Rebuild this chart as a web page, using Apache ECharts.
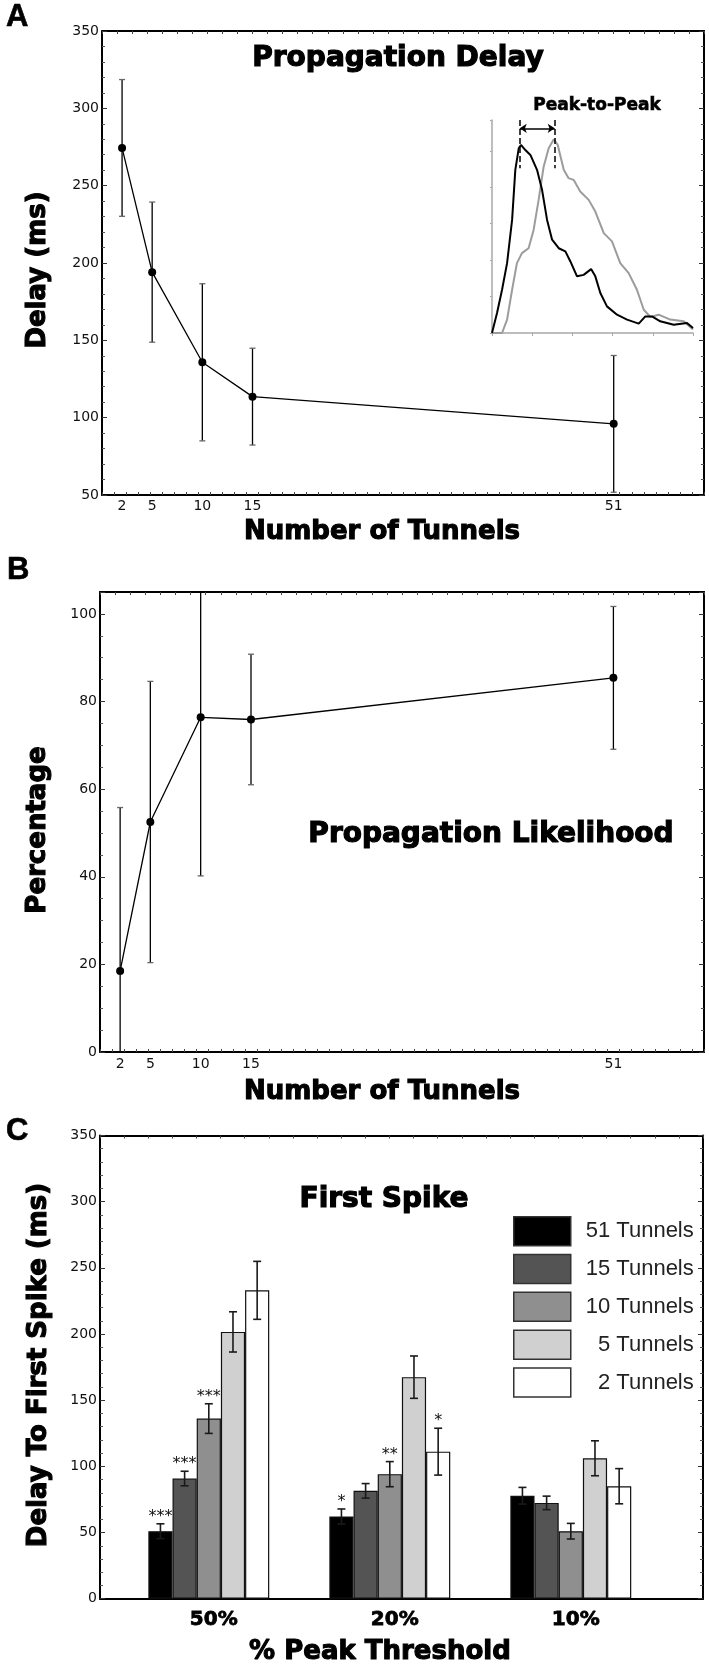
<!DOCTYPE html>
<html><head><meta charset="utf-8">
<script src="https://cdn.jsdelivr.net/npm/echarts@6/dist/echarts.min.js"></script>
<style>html,body{margin:0;padding:0;background:#fff}#c{width:709px;height:1667px}</style>
</head><body><div id="c"></div>
<script>
// ---------- DATA ----------
const tunnels = [2, 5, 10, 15, 51];
const xTickLabels = [2, 5, 10, 15, 51];
const delayMean = [274.4, 194.1, 135.8, 113.6, 96.0];
const delayErr = [44.2, 45.3, 50.8, 31.3, 44.2];
const likeMean = [18.5, 52.5, 76.4, 75.9, 85.4];
const likeErr = [37.3, 32.1, 36.2, 14.9, 16.3];

const thresholds = ['50%', '20%', '10%'];
const barNames = ['51 Tunnels', '15 Tunnels', '10 Tunnels', '5 Tunnels', '2 Tunnels'];
const spike51 = [51.0, 62.1, 77.8];   const spike51Err = [5.6, 5.7, 6.3];
const spike15 = [90.8, 81.5, 72.4];   const spike15Err = [5.5, 5.5, 5.1];
const spike10 = [136.1, 94.1, 51.0];  const spike10Err = [11.2, 9.5, 5.9];
const spike5  = [201.6, 167.4, 106.1];const spike5Err  = [15.2, 16.0, 13.2];
const spike2  = [233.0, 111.1, 85.0]; const spike2Err  = [21.9, 17.7, 13.3];
const stars51 = ['***', '*', ''];
const stars15 = ['***', '', ''];
const stars10 = ['***', '**', ''];
const stars5  = ['', '', ''];
const stars2  = ['', '*', ''];

// inset traces (normalised time, normalised amplitude)
const insetBlackT = [0,2.5,5.0,7.5,10.0,11.6,13.3,14.4,16.6,19.1,22.4,24.9,27.4,29.9,33.2,36.5,39.0,42.3,45.6,49.3,51.4,53.9,57.2,62.2,67.2,73.0,76.3,79.6,83.7,90.4,97.0,100];
const insetBlackV = [0,0.094,0.203,0.328,0.531,0.766,0.867,0.883,0.859,0.836,0.766,0.672,0.531,0.438,0.398,0.383,0.336,0.266,0.273,0.300,0.266,0.188,0.125,0.086,0.063,0.044,0.078,0.078,0.055,0.039,0.047,0.023];
const insetGreyT = [0,5.0,7.5,10.0,12.4,14.9,18.2,20.7,23.2,25.7,28.2,30.7,32.7,35.7,38.1,40.6,43.9,48.1,51.4,55.6,59.7,63.8,68.0,72.1,75.5,78.8,82.9,88.7,95.4,100];
const insetGreyV = [0,0,0.063,0.203,0.328,0.375,0.398,0.484,0.625,0.781,0.867,0.909,0.883,0.766,0.727,0.719,0.664,0.625,0.570,0.469,0.430,0.328,0.281,0.203,0.109,0.075,0.086,0.063,0.055,0.016];
const insetPeaks = [13.8, 31.2];

// ---------- HELPERS ----------
const spikeMeans = [spike51, spike15, spike10, spike5, spike2];
const spikeErrs = [spike51Err, spike15Err, spike10Err, spike5Err, spike2Err];
const spikeStars = [stars51, stars15, stars10, stars5, stars2];
const barColors = ['#000000', '#545454', '#8f8f8f', '#d0d0d0', '#ffffff'];
const BAR_CAT_GAP = 0.332;

const TICK_FONT = {fontFamily: 'DejaVu Sans', fontSize: 14, color: '#111'};
const FRAME_LINE = {show: true, onZero: false, lineStyle: {color: '#000', width: 2}};
const TICK_IN = {show: true, inside: true, length: 5, lineStyle: {color: '#333', width: 1}};

function errRender(capW, lw, color, capColor) {
  return function (params, api) {
    const x = api.value(0), lo = api.value(1), hi = api.value(2);
    const a = api.coord([x, lo]), b = api.coord([x, hi]);
    return {type: 'group', children: [
      {type: 'line', shape: {x1: a[0], y1: a[1], x2: b[0], y2: b[1]}, style: {stroke: color, lineWidth: lw}},
      {type: 'line', shape: {x1: a[0] - capW / 2, y1: a[1], x2: a[0] + capW / 2, y2: a[1]}, style: {stroke: capColor, lineWidth: lw}},
      {type: 'line', shape: {x1: b[0] - capW / 2, y1: b[1], x2: b[0] + capW / 2, y2: b[1]}, style: {stroke: capColor, lineWidth: lw}}
    ]};
  };
}

const errA = tunnels.map((t, i) => [t, delayMean[i] - delayErr[i], delayMean[i] + delayErr[i]]);
const errB = tunnels.map((t, i) => [t, likeMean[i] - likeErr[i], likeMean[i] + likeErr[i]]);
const errC = [];
spikeMeans.forEach((arr, s) => arr.forEach((m, c) => errC.push([c, s, m - spikeErrs[s][c], m + spikeErrs[s][c]])));

function renderErrC(params, api) {
  const cat = api.value(0), s = api.value(1), lo = api.value(2), hi = api.value(3);
  const c0 = api.coord([cat, 0]);
  const bandW = api.size([1, 0])[0];
  const groupW = bandW * (1 - BAR_CAT_GAP);
  const barW = groupW / 5;
  const px = c0[0] - groupW / 2 + (s + 0.5) * barW;
  const yLo = api.coord([cat, lo])[1], yHi = api.coord([cat, hi])[1];
  const capW = 8, col = '#1a1a1a';
  const children = [
    {type: 'line', shape: {x1: px, y1: yLo, x2: px, y2: yHi}, style: {stroke: col, lineWidth: 1.6}},
    {type: 'line', shape: {x1: px - capW / 2, y1: yLo, x2: px + capW / 2, y2: yLo}, style: {stroke: col, lineWidth: 1.6}},
    {type: 'line', shape: {x1: px - capW / 2, y1: yHi, x2: px + capW / 2, y2: yHi}, style: {stroke: col, lineWidth: 1.6}}
  ];
  const star = spikeStars[s][cat];
  if (star) {
    children.push({type: 'text', style: {text: star, x: px, y: yHi - 7, align: 'center', verticalAlign: 'middle',
      textAlign: 'center', textVerticalAlign: 'middle', font: '16px "DejaVu Sans"', fill: '#111'}});
  }
  return {type: 'group', children};
}

function txt(x, y, text, font, opts) {
  opts = opts || {};
  const st = {text: text, x: 0, y: 0, font: font, fill: '#000',
      align: opts.align || 'center', textAlign: opts.align || 'center',
      verticalAlign: 'middle', textVerticalAlign: 'middle'};
  if (opts.heavy) { st.stroke = '#000'; st.lineWidth = opts.heavy; }
  return {type: 'text', x: x, y: y, rotation: opts.rot || 0, z: 100, style: st};
}
const AXT = 'bold 26px "DejaVu Sans"';
const TTL = 'bold 28px "DejaVu Sans"';
const LET = 'bold 31px "Liberation Sans"';

// ---------- OPTION ----------
const option = {
  animation: false,
  backgroundColor: '#fff',
  grid: [
    {left: 102, top: 31, width: 602, height: 464},          // A
    {left: 492, top: 120, width: 201, height: 213},         // A inset
    {left: 100, top: 592, width: 604, height: 460},         // B
    {left: 100, top: 1135.5, width: 603, height: 463.2},    // C frame
    {left: 118.3, top: 1135.5, width: 543, height: 463.2}   // C bars
  ],
  xAxis: [
    {gridIndex: 0, type: 'value', min: 0, max: 60, interval: 1.2, axisLine: FRAME_LINE,
      axisTick: {show: true, inside: true, length: 3, lineStyle: {color: '#444'}},
      axisLabel: Object.assign({customValues: xTickLabels, margin: 4}, TICK_FONT), splitLine: {show: false}},
    {gridIndex: 0, type: 'value', position: 'top', min: 0, max: 60, interval: 1.5, axisLine: FRAME_LINE,
      axisTick: {show: true, inside: true, length: 3, lineStyle: {color: '#444'}}, axisLabel: {show: false}, splitLine: {show: false}},
    {gridIndex: 1, type: 'value', min: 0, max: 100, interval: 20,
      axisLine: {show: true, onZero: false, lineStyle: {color: '#a8a8a8', width: 1.5}},
      axisTick: {show: true, inside: false, length: 3, lineStyle: {color: '#a8a8a8'}}, axisLabel: {show: false}, splitLine: {show: false}},
    {gridIndex: 2, type: 'value', min: 0, max: 60, interval: 1.2, axisLine: FRAME_LINE,
      axisTick: {show: true, inside: true, length: 3, lineStyle: {color: '#444'}},
      axisLabel: Object.assign({customValues: xTickLabels, margin: 5}, TICK_FONT), splitLine: {show: false}},
    {gridIndex: 2, type: 'value', position: 'top', min: 0, max: 60, interval: 1.5, axisLine: FRAME_LINE,
      axisTick: {show: true, inside: true, length: 3, lineStyle: {color: '#444'}}, axisLabel: {show: false}, splitLine: {show: false}},
    {gridIndex: 3, type: 'value', min: 0, max: 25, interval: 1, axisLine: FRAME_LINE,
      axisTick: {show: false}, axisLabel: {show: false}, splitLine: {show: false}},
    {gridIndex: 3, type: 'value', position: 'top', min: 0, max: 25, interval: 1, axisLine: FRAME_LINE,
      axisTick: {show: true, inside: true, length: 3, lineStyle: {color: '#444'}}, axisLabel: {show: false}, splitLine: {show: false}},
    {gridIndex: 4, type: 'category', data: thresholds, axisLine: {show: false}, axisTick: {show: false},
      axisLabel: {margin: 11, fontFamily: 'DejaVu Sans', fontWeight: 'bold', fontSize: 20, color: '#000',
        textBorderColor: '#000', textBorderWidth: 0.8, padding: [0, 0, 0, 10]}}
  ],
  yAxis: [
    {gridIndex: 0, type: 'value', min: 50, max: 350, interval: 50, axisLine: FRAME_LINE, axisTick: TICK_IN,
      minorTick: {show: true, splitNumber: 5, length: 3, lineStyle: {color: '#555'}},
      axisLabel: Object.assign({margin: 3}, TICK_FONT), splitLine: {show: false}},
    {gridIndex: 0, type: 'value', position: 'right', min: 50, max: 350, interval: 50, axisLine: FRAME_LINE, axisTick: TICK_IN,
      minorTick: {show: true, splitNumber: 5, length: 3, lineStyle: {color: '#555'}}, axisLabel: {show: false}, splitLine: {show: false}},
    {gridIndex: 1, type: 'value', min: 0, max: 1, interval: 0.171,
      axisLine: {show: true, onZero: false, lineStyle: {color: '#a8a8a8', width: 1.5}},
      axisTick: {show: true, inside: false, length: 2, lineStyle: {color: '#a8a8a8'}}, axisLabel: {show: false}, splitLine: {show: false}},
    {gridIndex: 2, type: 'value', min: 0, max: 105, interval: 20, axisLine: FRAME_LINE, axisTick: TICK_IN,
      minorTick: {show: true, splitNumber: 4, length: 3, lineStyle: {color: '#555'}},
      axisLabel: Object.assign({margin: 3, showMaxLabel: false}, TICK_FONT), splitLine: {show: false}},
    {gridIndex: 2, type: 'value', position: 'right', min: 0, max: 105, interval: 20, axisLine: FRAME_LINE, axisTick: TICK_IN,
      minorTick: {show: true, splitNumber: 4, length: 3, lineStyle: {color: '#555'}}, axisLabel: {show: false}, splitLine: {show: false}},
    {gridIndex: 3, type: 'value', min: 0, max: 350, interval: 50, axisLine: FRAME_LINE, axisTick: TICK_IN,
      minorTick: {show: true, splitNumber: 5, length: 3, lineStyle: {color: '#555'}},
      axisLabel: Object.assign({margin: 3}, TICK_FONT), splitLine: {show: false}},
    {gridIndex: 3, type: 'value', position: 'right', min: 0, max: 350, interval: 50, axisLine: FRAME_LINE, axisTick: TICK_IN,
      minorTick: {show: true, splitNumber: 5, length: 3, lineStyle: {color: '#555'}}, axisLabel: {show: false}, splitLine: {show: false}},
    {gridIndex: 4, type: 'value', min: 0, max: 350, show: false, splitLine: {show: false}}
  ],
  legend: {
    data: barNames, orient: 'vertical', left: 508, top: 1211, itemWidth: 57, itemHeight: 29, itemGap: 7.3,
    icon: 'rect', selectedMode: false, itemStyle: {borderColor: '#333', borderWidth: 1.5},
    formatter: n => '{r|' + n + '}',
    textStyle: {fontFamily: 'Liberation Sans', fontSize: 22, color: '#222',
      rich: {r: {width: 118, align: 'right', fontFamily: 'Liberation Sans', fontSize: 22, color: '#222'}}}
  },
  series: [
    {type: 'custom', xAxisIndex: 0, yAxisIndex: 0, clip: true, z: 1, data: errA,
      encode: {x: 0, y: [1, 2]}, renderItem: errRender(6, 1.3, '#000', '#666')},
    {type: 'line', xAxisIndex: 0, yAxisIndex: 0, z: 3, data: tunnels.map((t, i) => [t, delayMean[i]]),
      symbol: 'circle', symbolSize: 8, itemStyle: {color: '#000'}, lineStyle: {color: '#000', width: 1.3}},
    {type: 'line', xAxisIndex: 2, yAxisIndex: 2, clip: false, z: 4, data: insetGreyT.map((t, i) => [t, insetGreyV[i]]),
      symbol: 'none', lineStyle: {color: '#9c9c9c', width: 2},
      markLine: {silent: true, symbol: ['arrow', 'arrow'], symbolSize: 7, label: {show: false},
        lineStyle: {color: '#000', width: 1.5, type: 'solid'},
        data: [[{coord: [insetPeaks[0], 0.961]}, {coord: [insetPeaks[1], 0.961]}]]}},
    {type: 'line', xAxisIndex: 2, yAxisIndex: 2, clip: false, z: 5, data: insetBlackT.map((t, i) => [t, insetBlackV[i]]),
      symbol: 'none', lineStyle: {color: '#000', width: 2},
      markLine: {silent: true, symbol: ['none', 'none'], label: {show: false},
        lineStyle: {color: '#000', width: 1.5, type: 'dashed', dashOffset: 0},
        data: insetPeaks.map(p => [{coord: [p, 1.0]}, {coord: [p, 0.773]}])}},
    {type: 'custom', xAxisIndex: 3, yAxisIndex: 3, clip: true, z: 1, data: errB,
      encode: {x: 0, y: [1, 2]}, renderItem: errRender(6, 1.3, '#000', '#666')},
    {type: 'line', xAxisIndex: 3, yAxisIndex: 3, z: 3, data: tunnels.map((t, i) => [t, likeMean[i]]),
      symbol: 'circle', symbolSize: 8, itemStyle: {color: '#000'}, lineStyle: {color: '#000', width: 1.3}},
    ...barNames.map((n, s) => ({
      type: 'bar', name: n, xAxisIndex: 7, yAxisIndex: 7, data: spikeMeans[s],
      barGap: '0%', barCategoryGap: (BAR_CAT_GAP * 100) + '%',
      itemStyle: {color: barColors[s], borderColor: '#111', borderWidth: 1.2}
    })),
    {type: 'custom', xAxisIndex: 7, yAxisIndex: 7, z: 5, data: errC, encode: {x: 0, y: [2, 3]}, renderItem: renderErrC}
  ],
  graphic: {elements: [
    txt(6, 17, 'A', LET, {align: 'left', heavy: 0.6}),
    txt(7, 570, 'B', LET, {align: 'left', heavy: 0.6}),
    txt(6, 1131, 'C', LET, {align: 'left', heavy: 0.6}),
    txt(398, 59, 'Propagation Delay', TTL, {heavy: 1.2}),
    txt(491, 835, 'Propagation Likelihood', TTL, {heavy: 1.2}),
    txt(384, 1200, 'First Spike', TTL, {heavy: 1.2}),
    txt(597, 106, 'Peak-to-Peak', 'bold 17px "DejaVu Sans"', {heavy: 0.6}),
    txt(382, 532, 'Number of Tunnels', AXT, {heavy: 1.1}),
    txt(382, 1092, 'Number of Tunnels', AXT, {heavy: 1.1}),
    txt(380, 1652, '% Peak Threshold', AXT, {heavy: 1.1}),
    txt(38, 270, 'Delay (ms)', AXT, {rot: Math.PI / 2, heavy: 1.1}),
    txt(38, 830, 'Percentage', AXT, {rot: Math.PI / 2, heavy: 1.1}),
    txt(39, 1365, 'Delay To First Spike (ms)', AXT, {rot: Math.PI / 2, heavy: 1.1})
  ]}
};
const chart = echarts.init(document.getElementById('c'), null, {renderer: 'canvas'});
chart.setOption(option);
</script></body></html>
